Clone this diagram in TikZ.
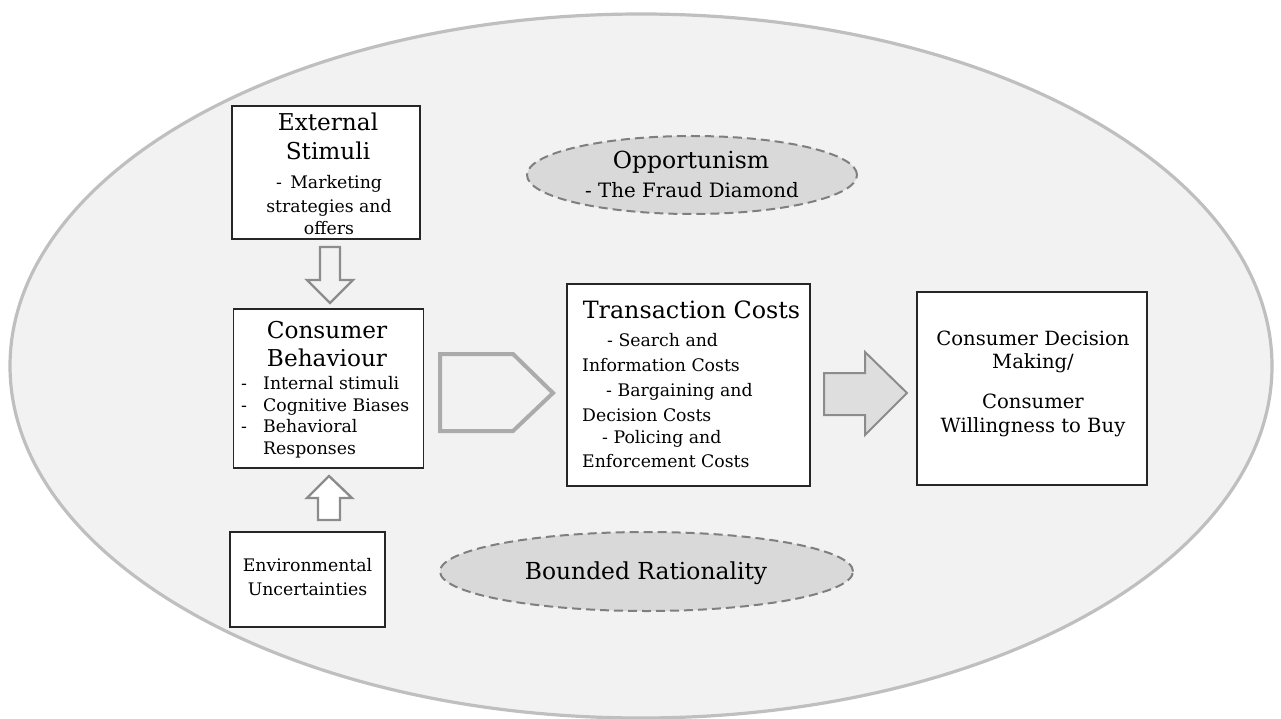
\documentclass[tikz,border=0pt]{standalone}
\usepackage{fontspec}
\setmainfont{DejaVu Serif}
\usetikzlibrary{shapes.geometric}
\definecolor{bgfill}{HTML}{F2F2F2}
\definecolor{bgline}{HTML}{BFBFBF}
\definecolor{ellfill}{HTML}{D9D9D9}
\definecolor{ellline}{HTML}{7F7F7F}
\definecolor{arrline}{HTML}{8C8C8C}
\definecolor{pentline}{HTML}{ABABAB}
\definecolor{arrfill}{HTML}{DEDEDE}
\definecolor{boxline}{HTML}{262626}
\begin{document}
\begin{tikzpicture}[x=1pt,y=-1pt,
  box/.style={draw=boxline, line width=1.6pt, fill=white, rectangle, inner sep=0pt},
  dashell/.style={ellipse, fill=ellfill, draw=ellline, line width=2pt, dash pattern=on 9pt off 5pt, inner sep=0pt},
  ttl/.style={anchor=base, inner sep=0pt, font=\fontsize{23.2}{27}\selectfont},
  txt/.style={anchor=base, inner sep=0pt, font=\fontsize{17.3}{20}\selectfont},
  txtl/.style={txt, anchor=base west},
  dtxt/.style={anchor=base, inner sep=0pt, font=\fontsize{19.6}{23}\selectfont},
  blockarrow/.style={draw=arrline, line width=2.4pt, line join=miter},
]
\useasboundingbox (0,0) rectangle (1281,719);
% outer ellipse
\draw[fill=bgfill, draw=bgline, line width=3.2pt] (641,366) ellipse [x radius=631pt, y radius=352pt];

% boxes
\node[box, minimum width=188pt, minimum height=133pt] (ext) at (326,172.5) {};
\node[box, minimum width=190pt, minimum height=159pt] (cb) at (328.5,388.5) {};
\node[box, minimum width=243pt, minimum height=202pt] (tc) at (688.5,385) {};
\node[box, minimum width=230pt, minimum height=193pt] (cdm) at (1032,388.5) {};
\node[box, minimum width=155pt, minimum height=95pt] (env) at (307.5,579.5) {};

% dashed ellipses
\node[dashell, minimum width=330pt, minimum height=78pt] (opp) at (692,175) {};
\node[dashell, minimum width=413pt, minimum height=79pt] (br) at (646.5,571.5) {};

% block arrows
\draw[blockarrow, fill=bgfill] (320,247) -- (340,247) -- (340,280) -- (353,280) -- (330,303) -- (307,280) -- (320,280) -- cycle;
\draw[blockarrow, fill=white] (329,476) -- (352,498) -- (340,498) -- (340,520) -- (318,520) -- (318,498) -- (307,498) -- cycle;
\draw[draw=pentline, line width=4pt, fill=bgfill, line join=miter] (440,354) -- (513,354) -- (553,393) -- (513,431) -- (440,431) -- cycle;
\draw[draw=arrline, line width=2pt, fill=arrfill, line join=miter] (824,373) -- (865,373) -- (865,352) -- (907,393) -- (865,435) -- (865,415) -- (824,415) -- cycle;

% External stimuli text
\node[ttl] (ext1) at (328,131) {External};
\node[ttl] (ext2) at (328,160) {Stimuli};
\node[txt] (ext3) at (329,188.5) {-\, Marketing};
\node[txt] (ext4) at (329,212.5) {strategies and};
\node[txt] (ext5) at (329,234.5) {offers};

% Consumer behaviour text
\node[ttl] (cb1) at (327,338) {Consumer};
\node[ttl] (cb2) at (327,366) {Behaviour};
\node[txtl] (cbd1) at (241,389.5) {-};
\node[txtl] (cbd2) at (241,411.5) {-};
\node[txtl] (cbd3) at (241,432.5) {-};
\node[txtl] (cb3) at (263,389.5) {Internal stimuli};
\node[txtl] (cb4) at (263,411.5) {Cognitive Biases};
\node[txtl] (cb5) at (263,432.5) {Behavioral};
\node[txtl] (cb6) at (263,454.5) {Responses};

% Transaction costs text
\node[anchor=base, inner sep=0pt, font=\fontsize{23.8}{28}\selectfont] (tc1) at (691.5,318) {Transaction Costs};
\node[txtl] (tc2) at (607,346.5) {- Search and};
\node[txtl] (tc3) at (582,371.5) {Information Costs};
\node[txtl] (tc4) at (606,396.5) {- Bargaining and};
\node[txtl] (tc5) at (582,421.5) {Decision Costs};
\node[txtl] (tc6) at (602,443.5) {- Policing and};
\node[txtl] (tc7) at (582,467.5) {Enforcement Costs};

% Decision text
\node[dtxt] (cdm1) at (1033,345) {Consumer Decision};
\node[dtxt] (cdm2) at (1033,368) {Making/};
\node[dtxt] (cdm3) at (1033,408) {Consumer};
\node[dtxt] (cdm4) at (1033,432) {Willingness to Buy};

% Environmental text
\node[txt] (env1) at (307.5,571.5) {Environmental};
\node[txt] (env2) at (307.5,595.5) {Uncertainties};

% Ellipse texts
\node[anchor=base, inner sep=0pt, font=\fontsize{23.5}{27}\selectfont] (opp1) at (691,169) {Opportunism};
\node[anchor=base, inner sep=0pt, font=\fontsize{19.8}{23}\selectfont] (opp2) at (692,198) {- The Fraud Diamond};
\node[anchor=base, inner sep=0pt, font=\fontsize{23.4}{27}\selectfont] (br1) at (646,579) {Bounded Rationality};
\end{tikzpicture}
\end{document}
